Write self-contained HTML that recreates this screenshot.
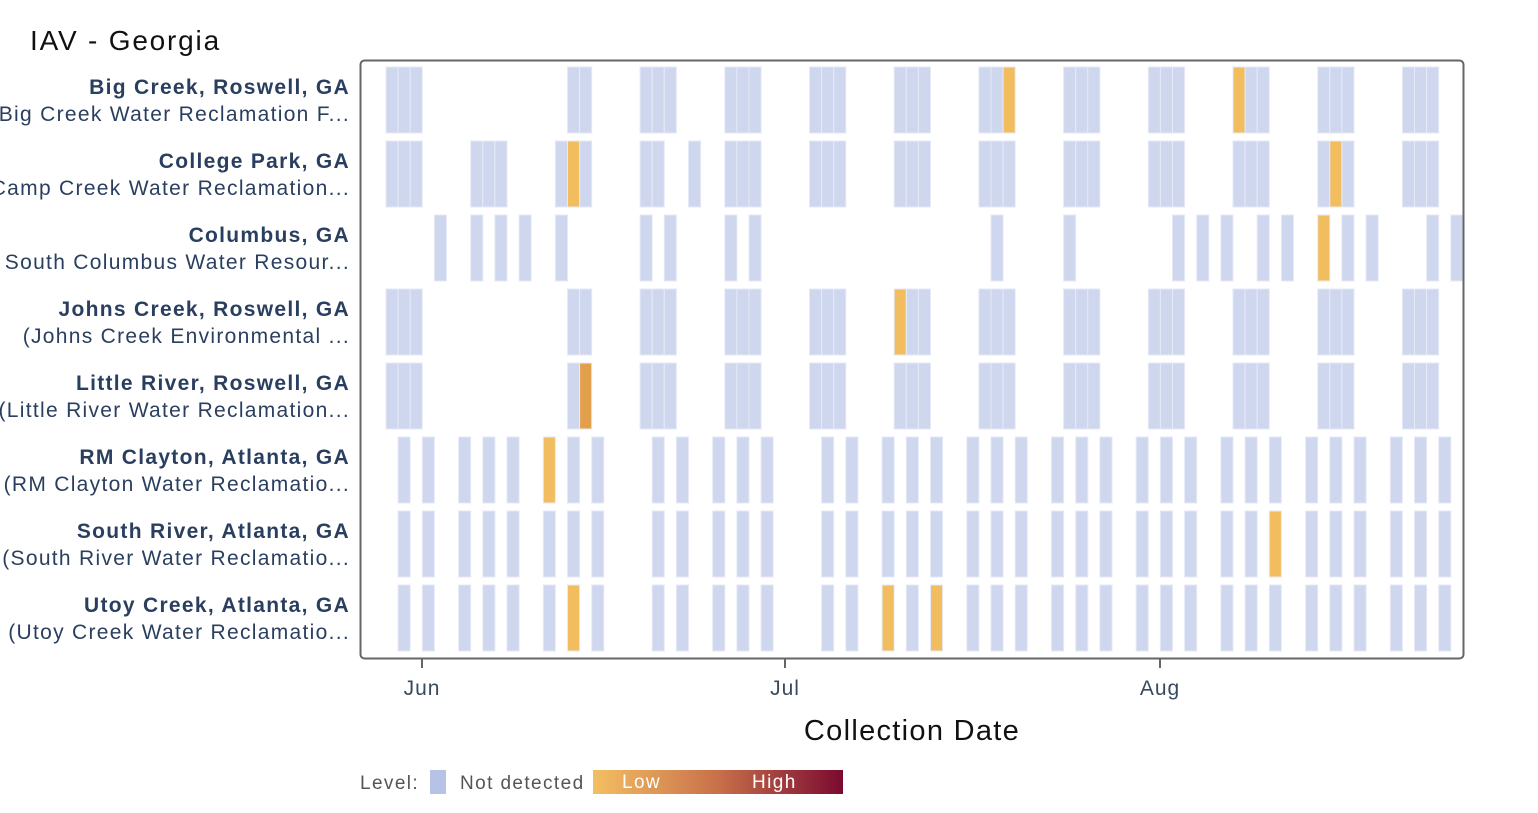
<!DOCTYPE html>
<html><head><meta charset="utf-8"><style>
body{margin:0;background:#fff;width:1538px;height:808px;overflow:hidden;font-family:"Liberation Sans",sans-serif}
</style></head><body>
<svg id="s" width="1538" height="808" xmlns="http://www.w3.org/2000/svg" font-family="Liberation Sans, sans-serif">
<defs><linearGradient id="g" x1="0" x2="1"><stop offset="0" stop-color="#f3bf62"/><stop offset="0.5" stop-color="#c8704a"/><stop offset="1" stop-color="#7a0a30"/></linearGradient></defs>
<text x="30" y="50" font-size="28" fill="#111" letter-spacing="1.8">IAV - Georgia</text>
<g id="cells"></g>
<rect x="360.5" y="60.5" width="1103" height="598" rx="4" fill="none" stroke="#666" stroke-width="2"/>
<g stroke="#666" stroke-width="2"><line x1="422" y1="659" x2="422" y2="668"/><line x1="785" y1="659" x2="785" y2="668"/><line x1="1160" y1="659" x2="1160" y2="668"/></g>
<g font-size="21" fill="#3a4a5e" text-anchor="middle" letter-spacing="1"><text x="422" y="695">Jun</text><text x="785" y="695">Jul</text><text x="1160" y="695">Aug</text></g>
<text x="912" y="740" font-size="29" fill="#111" text-anchor="middle" letter-spacing="1.3">Collection Date</text>
<g font-size="21" fill="#2a3f5f" text-anchor="end" id="labels" letter-spacing="1.3"></g>
<g font-size="19" letter-spacing="1.4">
<text x="360" y="789" fill="#555">Level:</text>
<rect x="430" y="770" width="16" height="24" fill="#b6c2e6"/>
<text x="460" y="789" fill="#555">Not detected</text>
<rect x="593" y="770" width="250" height="24" fill="url(#g)"/>
<text x="622" y="788" fill="#fff">Low</text>
<text x="752" y="788" fill="#fff">High</text>
</g>
</svg>
<script>
const B=[0,1,2];
const big=[...B,15,16,21,22,23,28,29,30,35,36,37,42,43,44,49,50,51,56,57,58,63,64,65,70,71,72,77,78,79,84,85,86];
const rm=[1,3,6,8,10,13,15,17,22,24,27,29,31,36,38,41,43,45,48,50,52,55,57,59,62,64,66,69,71,73,76,78,80,83,85,87];
const rows=[
 [big,{51:'o',70:'o'}],
 [[...B,7,8,9,14,15,16,21,22,25,28,29,30,35,36,37,42,43,44,49,50,51,56,57,58,63,64,65,70,71,72,77,78,79,84,85,86],{15:'o',78:'o'}],
 [[4,7,9,11,14,21,23,28,30,50,56,65,67,69,72,74,77,79,81,86,88],{77:'o'}],
 [big,{42:'o'}],
 [big,{16:'d'}],
 [rm,{13:'o'}],
 [rm,{73:'o'}],
 [rm,{15:'o',41:'o',45:'o'}]];
const labs=[["Big Creek, Roswell, GA","Big Creek Water Reclamation F..."],["College Park, GA","Camp Creek Water Reclamation..."],["Columbus, GA","South Columbus Water Resour..."],["Johns Creek, Roswell, GA","(Johns Creek Environmental ..."],["Little River, Roswell, GA","(Little River Water Reclamation..."],["RM Clayton, Atlanta, GA","(RM Clayton Water Reclamatio..."],["South River, Atlanta, GA","(South River Water Reclamatio..."],["Utoy Creek, Atlanta, GA","(Utoy Creek Water Reclamatio..."]];
let h='',l='';
rows.forEach((r,i)=>{const y=67+74*i;r[0].forEach(k=>{const c=r[1][k]=='o'?'#f2bd5e':r[1][k]=='d'?'#e3a04c':'#cfd7ee';
h+=`<rect x="${386+12.1*k}" y="${y}" width="12.1" height="66" fill="${c}" stroke="#e6eaf7" stroke-width="1"/>`});
l+=`<text x="350" y="${y+27}" font-weight="bold">${labs[i][0]}</text><text x="350" y="${y+54}">${labs[i][1]}</text>`});
document.getElementById('cells').innerHTML=h;document.getElementById('labels').innerHTML=l;
</script>
</body></html>
